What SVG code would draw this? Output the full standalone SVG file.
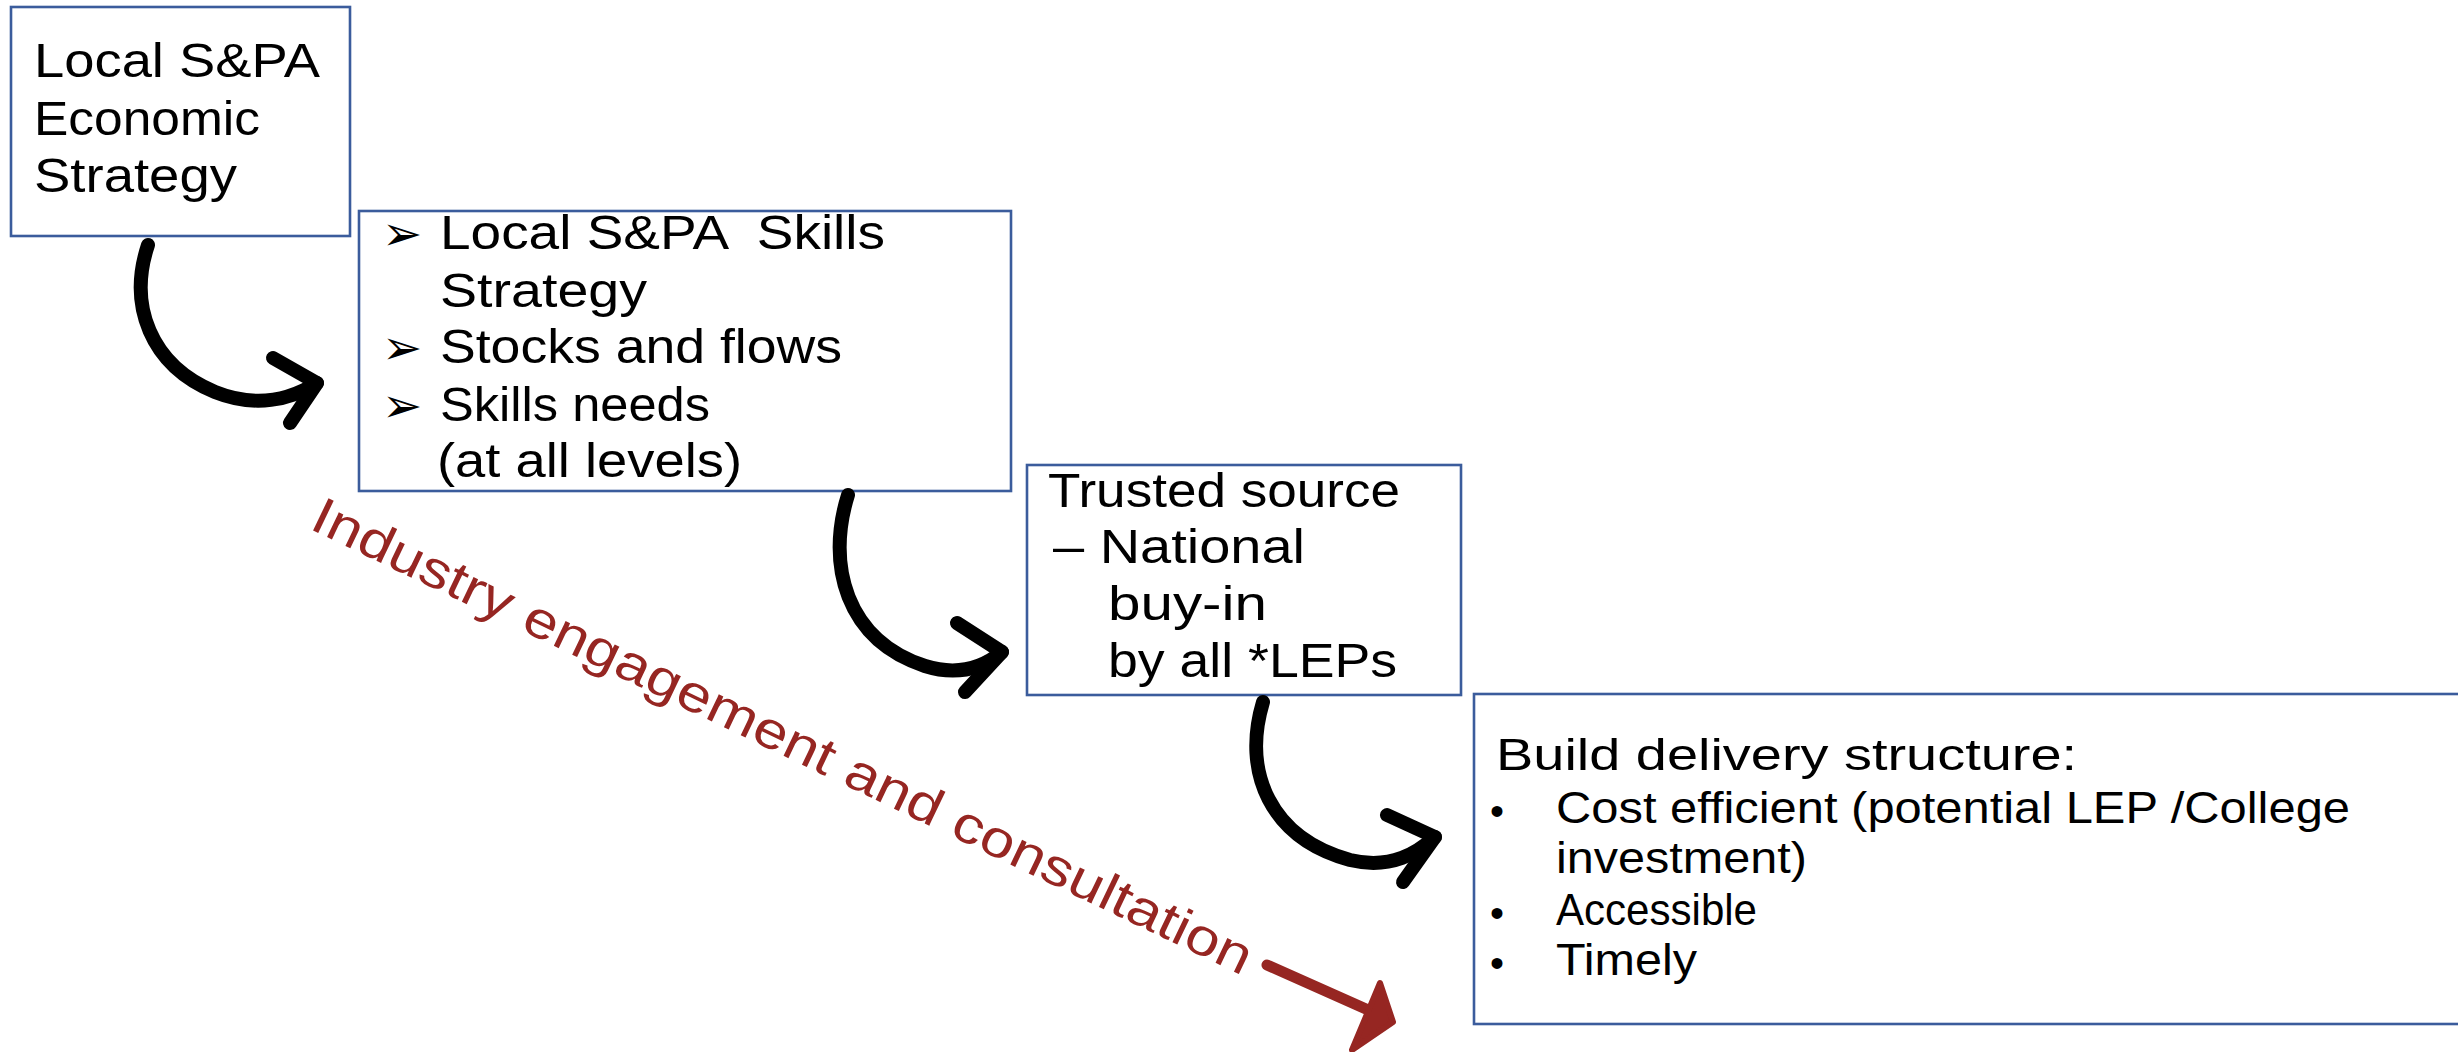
<svg xmlns="http://www.w3.org/2000/svg" width="2458" height="1052" viewBox="0 0 2458 1052">
<style>
  .box { fill: #ffffff; stroke: #3B5C9C; stroke-width: 2.6; }
  .t { font-family: "Segoe Print", "Comic Sans MS", "Liberation Sans", "DejaVu Sans", sans-serif; font-size: 48px; fill: #000000; white-space: pre; }
  .t4 { font-family: "Segoe Print", "Comic Sans MS", "Liberation Sans", "DejaVu Sans", sans-serif; font-size: 44px; fill: #000000; white-space: pre; }
  .bul { font-family: "DejaVu Sans", sans-serif; font-size: 48px; fill: #000000; }
  .dot { font-family: "Liberation Sans", "DejaVu Sans", sans-serif; font-size: 40px; fill: #000000; }
  .red { font-family: "Segoe Print", "Comic Sans MS", "Liberation Sans", "DejaVu Sans", sans-serif; font-size: 52px; fill: #962622; }
  .curve { fill: none; stroke: #000000; stroke-width: 14; stroke-linecap: round; stroke-linejoin: round; }
</style>
<rect width="2458" height="1052" fill="#ffffff"/>

<g id="node-economic-strategy">
  <rect class="box" x="11" y="7" width="339" height="229"/>
  <text class="t" x="34" y="77" textLength="286" lengthAdjust="spacingAndGlyphs">Local S&amp;PA</text>
  <text class="t" x="34" y="135" textLength="226" lengthAdjust="spacingAndGlyphs">Economic</text>
  <text class="t" x="34" y="192" textLength="203" lengthAdjust="spacingAndGlyphs">Strategy</text>
</g>

<g id="node-skills-strategy">
  <rect class="box" x="359" y="211" width="652" height="280"/>
  <text class="bul" x="382" y="250">➢</text>
  <text class="t" x="440" y="249" textLength="445" lengthAdjust="spacingAndGlyphs">Local S&amp;PA  Skills</text>
  <text class="t" x="440" y="307" textLength="207" lengthAdjust="spacingAndGlyphs">Strategy</text>
  <text class="bul" x="382" y="364">➢</text>
  <text class="t" x="440" y="363" textLength="402" lengthAdjust="spacingAndGlyphs">Stocks and flows</text>
  <text class="bul" x="382" y="422">➢</text>
  <text class="t" x="440" y="421" textLength="270" lengthAdjust="spacingAndGlyphs">Skills needs</text>
  <text class="t" x="437" y="477" textLength="305" lengthAdjust="spacingAndGlyphs">(at all levels)</text>
</g>

<g id="node-trusted-source">
  <rect class="box" x="1027" y="465" width="434" height="230"/>
  <text class="t" x="1048" y="507" textLength="352" lengthAdjust="spacingAndGlyphs">Trusted source</text>
  <text class="t" x="1053" y="563" textLength="252" lengthAdjust="spacingAndGlyphs">– National</text>
  <text class="t" x="1108" y="620" textLength="159" lengthAdjust="spacingAndGlyphs">buy-in</text>
  <text class="t" x="1108" y="677" textLength="289" lengthAdjust="spacingAndGlyphs">by all *LEPs</text>
</g>

<g id="node-delivery-structure">
  <rect class="box" x="1474" y="694" width="1000" height="330"/>
  <text class="t4" x="1496" y="770" textLength="581" lengthAdjust="spacingAndGlyphs">Build delivery structure:</text>
  <text class="dot" x="1490" y="825">•</text>
  <text class="t4" x="1556" y="823" textLength="794" lengthAdjust="spacingAndGlyphs">Cost efficient (potential LEP /College</text>
  <text class="t4" x="1556" y="873" textLength="251" lengthAdjust="spacingAndGlyphs">investment)</text>
  <text class="dot" x="1490" y="927">•</text>
  <text class="t4" x="1556" y="925" textLength="201" lengthAdjust="spacingAndGlyphs">Accessible</text>
  <text class="dot" x="1490" y="977">•</text>
  <text class="t4" x="1556" y="975" textLength="141" lengthAdjust="spacingAndGlyphs">Timely</text>
</g>

<g id="label-industry">
  <text class="red" x="308" y="528" transform="rotate(25.6 308 528)" textLength="1036" lengthAdjust="spacingAndGlyphs">Industry engagement and consultation</text>
</g>

<g id="connectors">
  <path class="curve" d="M148,245 C128,305 150,365 215,392 C255,408 290,400 317,383"/>
  <path class="curve" d="M273,358 L317,383 L290,423"/>
  <path class="curve" d="M848,495 C826,565 846,640 925,666 C960,677 985,666 1002,652"/>
  <path class="curve" d="M957,623 L1002,652 L965,692"/>
  <path class="curve" d="M1263,702 C1242,772 1270,838 1350,860 C1392,870 1418,852 1435,837"/>
  <path class="curve" d="M1387,815 L1435,837 L1403,882"/>
  <path d="M1267,965 L1375,1013" fill="none" stroke="#962622" stroke-width="11" stroke-linecap="round"/>
  <path d="M1380,983 L1393,1022 L1352,1050 Z" fill="#962622" stroke="#962622" stroke-width="6" stroke-linejoin="round"/>
</g>
</svg>
